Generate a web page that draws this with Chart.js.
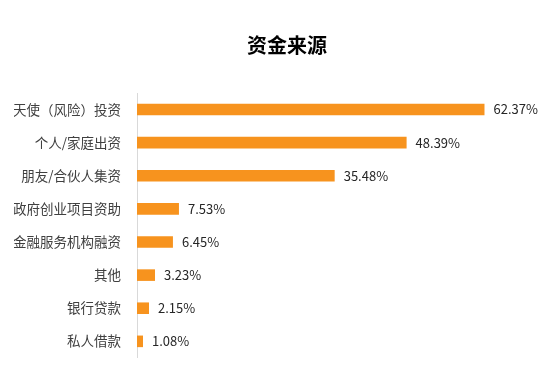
<!DOCTYPE html>
<html>
<head>
<meta charset="utf-8">
<script src="https://cdn.jsdelivr.net/npm/chart.js@4/dist/chart.umd.min.js"></script>
<style>
  html, body { margin: 0; padding: 0; background: #fff; }
  #wrap { width: 554px; height: 374px; }
</style>
</head>
<body>
<div id="wrap"><canvas id="chart" width="554" height="374"></canvas></div>
<script>
// Data
const chartTitle = '资金来源';
const categories = ['天使（风险）投资', '个人/家庭出资', '朋友/合伙人集资', '政府创业项目资助',
  '金融服务机构融资', '其他', '银行贷款', '私人借款'];
const shares = [62.37, 48.39, 35.48, 7.53, 6.45, 3.23, 2.15, 1.08];

const FONT = '"Noto Sans CJK SC", "Noto Sans", sans-serif';

// Title, a bit right of the canvas centre like the original
const titleText = {
  id: 'titleText',
  afterDraw(chart) {
    const ctx = chart.ctx;
    ctx.save();
    ctx.font = 'bold 20px ' + FONT;
    ctx.fillStyle = '#000';
    ctx.textAlign = 'center';
    ctx.textBaseline = 'middle';
    ctx.fillText(chartTitle, 287, 45);
    ctx.restore();
  }
};

// Value labels at the bar ends
const valueLabels = {
  id: 'valueLabels',
  afterDatasetsDraw(chart) {
    const ctx = chart.ctx;
    const meta = chart.getDatasetMeta(0);
    ctx.save();
    ctx.font = '13px ' + FONT;
    ctx.fillStyle = '#262626';
    ctx.textBaseline = 'middle';
    ctx.textAlign = 'left';
    meta.data.forEach((bar, i) => {
      ctx.fillText(shares[i].toFixed(2) + '%', bar.x + 9, bar.y);
    });
    ctx.restore();
  }
};

new Chart(document.getElementById('chart'), {
  type: 'bar',
  data: {
    labels: categories,
    datasets: [{
      data: shares,
      backgroundColor: '#F7931E',
      barPercentage: 0.7,
      categoryPercentage: 0.5
    }]
  },
  options: {
    indexAxis: 'y',
    responsive: false,
    animation: false,
    layout: { padding: { left: 14, right: 27, bottom: 5, top: 93 } },
    plugins: {
      legend: { display: false },
      tooltip: { enabled: false },
      title: { display: false }
    },
    scales: {
      x: {
        display: false,
        min: 0,
        max: 70
      },
      y: {
        grid: { display: false },
        border: { display: true, color: '#d9d9d9', width: 1 },
        ticks: {
          color: '#404040',
          font: { family: FONT, size: 13.5 },
          padding: 8
        },
        afterFit(scale) { scale.width = 123; }
      }
    }
  },
  plugins: [valueLabels, titleText]
});
</script>
</body>
</html>
